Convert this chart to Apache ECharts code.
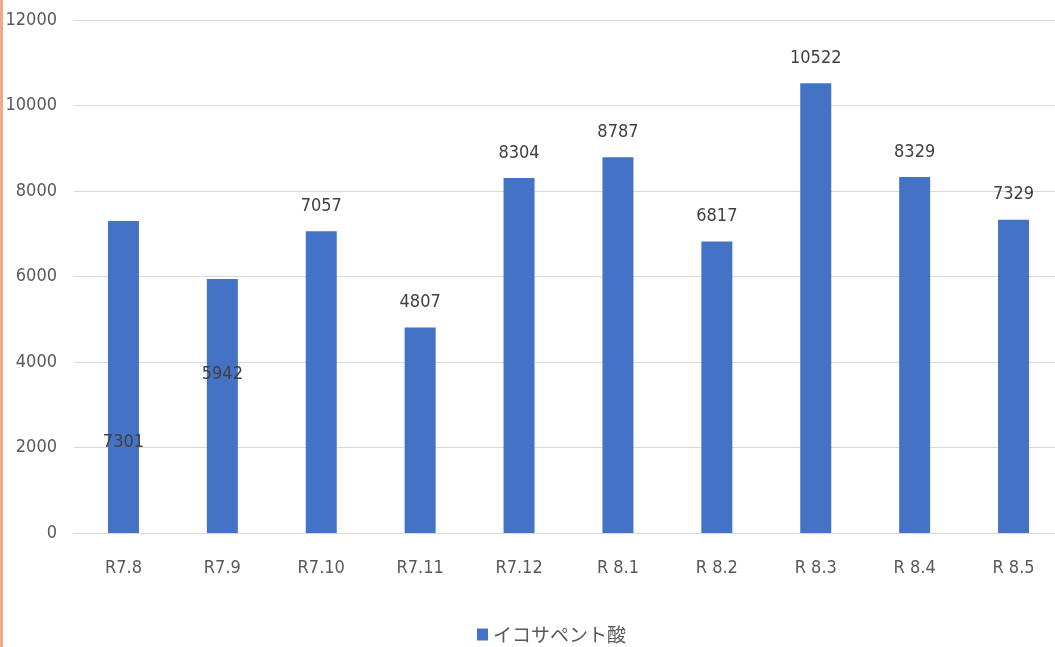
<!DOCTYPE html>
<html>
<head>
<meta charset="utf-8">
<script src="https://cdn.jsdelivr.net/npm/echarts@6/dist/echarts.min.js"></script>
<style>
  html, body { margin: 0; padding: 0; background: #ffffff; }
  #wrap { position: relative; width: 1055px; height: 647px; overflow: hidden; }
  #chart { position: absolute; left: 0; top: 0; width: 1055px; height: 647px; }
  #edge { position: absolute; left: 0; top: 0; width: 3px; height: 647px; background: #f4aa80; }
</style>
</head>
<body>
<div id="wrap">
  <div id="chart"></div>
  <div id="edge"></div>
</div>
<script>
// Monthly values (Reiwa year.month)
const categories = ['R7.8', 'R7.9', 'R7.10', 'R7.11', 'R7.12', 'R 8.1', 'R 8.2', 'R 8.3', 'R 8.4', 'R 8.5'];
const values = [7301, 5942, 7057, 4807, 8304, 8787, 6817, 10522, 8329, 7329];
const yTicks = [0, 2000, 4000, 6000, 8000, 10000, 12000];
const seriesName = 'イコサペント酸';

// Two labels sit inside their bars rather than on top
const insideLabelDistance = { 0: 82, 1: 150 };

const numFont = "'DejaVu Sans Condensed', 'Liberation Sans Narrow', 'Liberation Sans', sans-serif";
const textColor = '#595959';

const data = values.map((v, i) => {
  const item = { value: v };
  if (insideLabelDistance[i] !== undefined) {
    item.label = { position: 'insideBottom', distance: insideLabelDistance[i] };
  }
  return item;
});

const chart = echarts.init(document.getElementById('chart'), null, { renderer: 'canvas' });
chart.setOption({
  animation: false,
  backgroundColor: '#ffffff',
  grid: { left: 74, top: 20, width: 989, height: 513, containLabel: false, outerBoundsMode: 'none' },
  xAxis: {
    type: 'category',
    data: categories,
    axisLine: { show: true, lineStyle: { color: '#d9d9d9', width: 1 } },
    axisTick: { show: false },
    axisLabel: { color: textColor, fontFamily: numFont, fontSize: 18, margin: 26, interval: 0 }
  },
  yAxis: {
    type: 'value',
    min: yTicks[0],
    max: yTicks[yTicks.length - 1],
    interval: yTicks[1] - yTicks[0],
    axisLine: { show: false },
    axisTick: { show: false },
    splitLine: { lineStyle: { color: '#d9d9d9', width: 1 } },
    axisLabel: { color: textColor, fontFamily: numFont, fontSize: 18, margin: 17, formatter: v => String(v) }
  },
  legend: {
    data: [seriesName],
    left: 472,
    top: 620,
    icon: 'rect',
    itemWidth: 11,
    itemHeight: 12,
    textStyle: { color: textColor, fontSize: 19, fontFamily: "'Noto Sans CJK JP', sans-serif" }
  },
  series: [{
    name: seriesName,
    type: 'bar',
    data: data,
    barWidth: 31,
    itemStyle: { color: '#4472c4' },
    label: {
      show: true,
      position: 'top',
      distance: 16,
      color: '#404040',
      fontFamily: numFont,
      fontSize: 18
    }
  }]
});
</script>
</body>
</html>
